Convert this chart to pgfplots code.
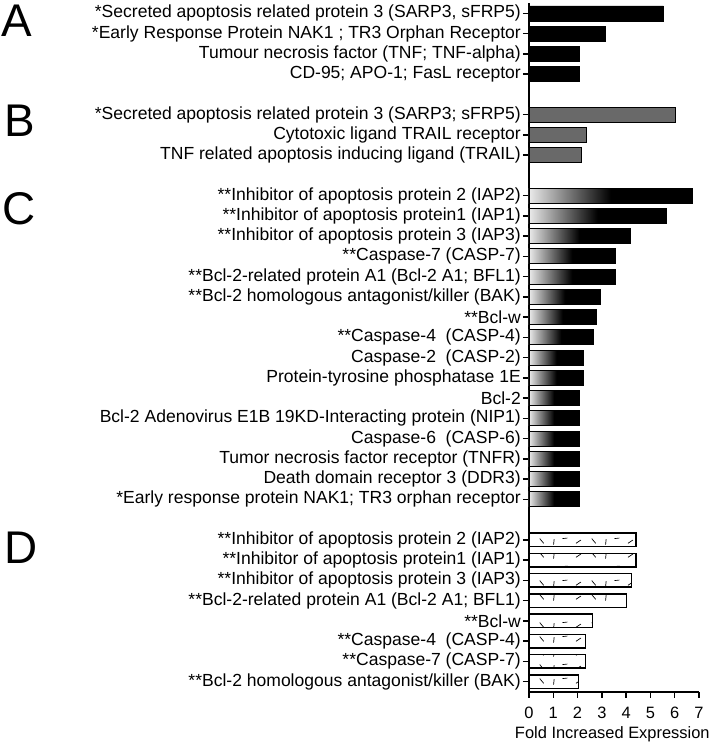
\documentclass[border=0pt]{standalone}
\usepackage{pgfplots}
\pgfplotsset{compat=1.18}
\usepackage{fontspec}
\setmainfont{Liberation Sans}
\usetikzlibrary{patterns}
\definecolor{bgray}{RGB}{105,105,105}
\pgfdeclarepatternformonly{randdash}{\pgfpointorigin}{\pgfqpoint{52bp}{14bp}}{\pgfqpoint{52bp}{14bp}}{%
  \pgfsetlinewidth{0.7bp}%
  \pgfpathmoveto{\pgfqpoint{4bp}{5bp}}\pgfpathlineto{\pgfqpoint{9bp}{8.5bp}}%
  \pgfpathmoveto{\pgfqpoint{20bp}{10bp}}\pgfpathlineto{\pgfqpoint{24bp}{5bp}}%
  \pgfpathmoveto{\pgfqpoint{34bp}{3.5bp}}\pgfpathlineto{\pgfqpoint{34.6bp}{9.5bp}}%
  \pgfpathmoveto{\pgfqpoint{43bp}{10bp}}\pgfpathlineto{\pgfqpoint{48bp}{10.6bp}}%
  \pgfusepath{stroke}}
\newcommand{\lbl}{\fontsize{17.6}{19}\selectfont}
\newcommand{\tlbl}{\fontsize{16.5}{18}\selectfont}
\pgfplotsset{cbar/.style={xbar, bar shift=0pt, bar width=15bp, draw=black, line width=0.8bp,
  left color=black!8, right color=black, middle color=black, forget plot}}
\begin{document}
\begin{tikzpicture}
\useasboundingbox (-529bp,-52.2bp) rectangle (190bp,691.8bp);
\begin{axis}[
  at={(0,0)}, anchor=south west,
  scale only axis, width=170bp, height=688.6bp,
  xmin=0, xmax=7, ymin=-33.5, ymax=0.5,
  axis lines=left, axis line style={-, line width=1.6bp},
  tick align=outside, major tick length=6bp,
  tick style={line width=1.4bp, black},
  xtick={0,1,2,3,4,5,6,7},
  /pgf/number format/assume math mode=true,
  xticklabel style={font=\tlbl, inner sep=0pt, anchor=north, yshift=-9bp},
  ytick={0,-1,-2,-3,-5,-6,-7,-9,-10,-11,-12,-13,-14,-15,-16,-17,-18,-19,-20,-21,-22,-23,-24,-26,-27,-28,-29,-30,-31,-32,-33},
  yticklabels={
    {*Secreted apoptosis related protein 3 (SARP3, sFRP5)},
    {*Early Response Protein NAK1 ; TR3 Orphan Receptor},
    {Tumour necrosis factor (TNF; TNF-alpha)\ },
    {CD-95; APO-1; FasL receptor},
    {*Secreted apoptosis related protein 3 (SARP3; sFRP5)},
    {Cytotoxic ligand TRAIL receptor},
    {TNF related apoptosis inducing ligand (TRAIL)},
    {**Inhibitor of apoptosis protein 2 (IAP2)},
    {**Inhibitor of apoptosis protein1 (IAP1)},
    {**Inhibitor of apoptosis protein 3 (IAP3)},
    {**Caspase-7 (CASP-7)},
    {**Bcl-2-related protein A1 (Bcl-2 A1; BFL1)},
    {**Bcl-2 homologous antagonist/killer (BAK)},
    {**Bcl-w\ },
    {**Caspase-4\ \ (CASP-4)},
    {Caspase-2\ \ (CASP-2)},
    {Protein-tyrosine phosphatase 1E},
    {Bcl-2},
    {Bcl-2 Adenovirus E1B 19KD-Interacting protein (NIP1)},
    {Caspase-6\ \ (CASP-6)},
    {Tumor necrosis factor receptor (TNFR)},
    {Death domain receptor 3 (DDR3)},
    {*Early response protein NAK1; TR3 orphan receptor},
    {**Inhibitor of apoptosis protein 2 (IAP2)},
    {**Inhibitor of apoptosis protein1 (IAP1)},
    {**Inhibitor of apoptosis protein 3 (IAP3)},
    {**Bcl-2-related protein A1 (Bcl-2 A1; BFL1)},
    {**Bcl-w},
    {**Caspase-4\ \ (CASP-4)},
    {**Caspase-7 (CASP-7)},
    {**Bcl-2 homologous antagonist/killer (BAK)}},
  yticklabel style={font=\lbl, anchor=east, inner xsep=2bp, inner ysep=0pt},
  xlabel={Fold Increased Expression},
  xlabel style={font=\tlbl, at={(axis description cs:0.49,0)}, anchor=north, inner sep=0pt, yshift=-35bp},
  clip=false,
]
% Panel A
\addplot[xbar, bar shift=0pt, bar width=15bp, fill=black, draw=black]
  coordinates {(5.53,0) (3.15,-1) (2.06,-2) (2.06,-3)};
% Panel B
\addplot[xbar, bar shift=0pt, bar width=15bp, fill=bgray, draw=black, line width=0.8bp]
  coordinates {(6.03,-5) (2.35,-6) (2.15,-7)};
% Panel C (one plot per bar so each bar carries its own shading)
\addplot[cbar] coordinates {(6.73,-9)};
\addplot[cbar] coordinates {(5.64,-10)};
\addplot[cbar] coordinates {(4.16,-11)};
\addplot[cbar] coordinates {(3.55,-12)};
\addplot[cbar] coordinates {(3.55,-13)};
\addplot[cbar] coordinates {(2.95,-14)};
\addplot[cbar] coordinates {(2.76,-15)};
\addplot[cbar] coordinates {(2.65,-16)};
\addplot[cbar] coordinates {(2.26,-17)};
\addplot[cbar] coordinates {(2.26,-18)};
\addplot[cbar] coordinates {(2.06,-19)};
\addplot[cbar] coordinates {(2.06,-20)};
\addplot[cbar] coordinates {(2.06,-21)};
\addplot[cbar] coordinates {(2.06,-22)};
\addplot[cbar] coordinates {(2.06,-23)};
\addplot[cbar] coordinates {(2.06,-24)};
% Panel D
\addplot[xbar, bar shift=0pt, bar width=13.5bp, draw=black, line width=1.4bp, pattern=randdash]
  coordinates {(4.40,-26) (4.40,-27) (4.23,-28) (4.02,-29) (2.62,-30) (2.33,-31) (2.33,-32) (2.03,-33)};
\end{axis}
\begin{scope}[every node/.style={anchor=north west, inner sep=0pt, font=\fontsize{46}{46}\selectfont}]
\node at (-528bp,686.8bp) {A};
\node at (-525bp,586.8bp) {B};
\node at (-527bp,499.8bp) {C};
\node at (-525bp,159.8bp) {D};
\end{scope}
\end{tikzpicture}
\end{document}
